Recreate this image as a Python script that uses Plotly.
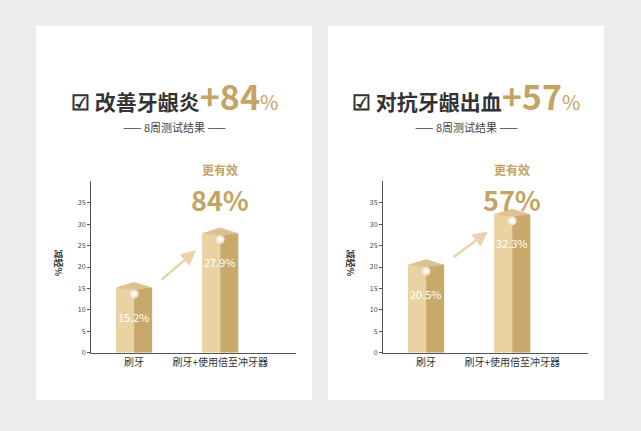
import plotly.graph_objects as go

categories = ["刷牙", "刷牙+使用倍至冲牙器"]
left_values = [15.2, 27.9]
right_values = [20.5, 32.3]
titles = ["改善牙龈炎", "对抗牙龈出血"]
gains = ["84", "57"]
yticks = [0, 5, 10, 15, 20, 25, 30, 35]

GOLD = "#c4a462"
LIGHT = "#ead3a3"
DARK = "#c8a96b"
W = 0.21
fig = go.Figure()
doms = [(91/641, 296/641), (383/641, 588/641)]
ydom = (75/431, 248/431)
cards = [(36, 312), (328, 604)]
F = "Noto Sans CJK SC"

for i, vals in enumerate([left_values, right_values]):
    xa = "x" if i == 0 else "x2"
    ya = "y" if i == 0 else "y2"
    xs = list(range(len(categories)))
    fig.add_trace(go.Bar(x=xs, y=vals, width=W, offset=-W, marker=dict(color=LIGHT, line_width=0),
                         xaxis=xa, yaxis=ya, hoverinfo="skip"))
    fig.add_trace(go.Bar(x=xs, y=vals, width=W, offset=0, marker=dict(color=DARK, line_width=0),
                         xaxis=xa, yaxis=ya, hoverinfo="skip"))
    for x, v in zip(xs, vals):
        fig.add_trace(go.Scatter(x=[x-W, x, x+W, x, x-W], y=[v, v+1.3, v, v-0.6, v], fill="toself",
                                 fillcolor="#dcc290", line=dict(width=0), mode="lines",
                                 xaxis=xa, yaxis=ya, hoverinfo="skip"))
        fig.add_trace(go.Scatter(x=[x], y=[v-1.5], mode="markers",
                                 marker=dict(color="white", size=7, line=dict(color="#f3e6c8", width=2)),
                                 xaxis=xa, yaxis=ya, hoverinfo="skip"))
        fig.add_annotation(x=x, y=v-6.8, text=f"{v}%", showarrow=False, xref=xa, yref=ya,
                           font=dict(color="white", size=11, family=F))
    fig.add_annotation(x=0.72, y=vals[1]-4, ax=0.3, ay=vals[0]+1.5, xref=xa, yref=ya, axref=xa, ayref=ya,
                       showarrow=True, arrowhead=2, arrowsize=1.2, arrowwidth=2.5, arrowcolor="#e9d3a8", text="")
    fig.add_annotation(x=1.0, y=(431-171)/431, xref=xa, yref="paper", text="<b>更有效</b>", showarrow=False,
                       xanchor="center", yanchor="middle", font=dict(color=GOLD, size=12, family=F))
    fig.add_annotation(x=1.0, y=(431-201)/431, xref=xa, yref="paper", text="<b>" + gains[i] + "%</b>",
                       showarrow=False, xanchor="center", yanchor="middle",
                       font=dict(color=GOLD, size=27, family=F))
    for k, c in enumerate(["#e2e2e2", "#ececec", "#f3f3f3", "#f9f9f9"]):
        fig.add_shape(type="rect", xref=xa + " domain", yref=ya, x0=0, x1=1, y0=10*k, y1=10*k+10,
                      fillcolor=c, line_width=0, layer="below")
    x0, x1 = cards[i]
    fig.add_shape(type="rect", xref="paper", yref="paper", x0=x0/641, x1=x1/641, y0=(431-404)/431,
                  y1=(431-26)/431, fillcolor="white", line_width=0, layer="below")
    cx = (x0 + x1) / 2 / 641
    fig.add_annotation(x=cx, y=(431-96)/431, xref="paper", yref="paper", showarrow=False,
                       xanchor="center", yanchor="middle",
                       text=f"<span style='font-size:21px;color:#333'><b>☑ {titles[i]}</b></span>"
                            f"<span style='font-size:34px;color:{GOLD}'><b>+{gains[i]}</b></span>"
                            f"<span style='font-size:20px;color:{GOLD}'>%</span>",
                       font=dict(family=F))
    fig.add_annotation(x=cx, y=(431-128)/431, xref="paper", yref="paper", showarrow=False,
                       xanchor="center", yanchor="middle",
                       text="—— 8周测试结果 ——", font=dict(size=11, color="#444", family=F))
    fig.add_annotation(x=(doms[i][0]*641-33)/641, y=(431-265)/431, xref="paper", yref="paper", showarrow=False,
                       xanchor="center", yanchor="middle",
                       text="<b>减轻%</b>", textangle=90, font=dict(size=9, color="#333", family=F))

for i in range(2):
    sx = "" if i == 0 else "2"
    fig.update_layout(**{
        f"xaxis{sx}": dict(domain=doms[i], range=[-0.5, 1.88], tickvals=[0, 1], ticktext=categories,
                           showline=True, linecolor="#555", linewidth=1, ticks="", anchor="y" + sx,
                           showgrid=False, zeroline=False, tickfont=dict(size=10, color="#333")),
        f"yaxis{sx}": dict(domain=ydom, range=[0, 40], tickvals=yticks, showline=True, linecolor="#555",
                           ticks="outside", ticklen=3, tickcolor="#555", anchor="x" + sx,
                           showgrid=False, zeroline=False, tickfont=dict(size=7, color="#444")),
    })

fig.update_layout(width=641, height=431, margin=dict(l=0, r=0, t=0, b=0), paper_bgcolor="#ececef",
                  plot_bgcolor="rgba(0,0,0,0)", showlegend=False, barmode="overlay",
                  font=dict(family=F))
fig.write_html("out.html", config={"displayModeBar": False},
               post_script="document.body.style.margin='0';document.body.style.padding='0';")
